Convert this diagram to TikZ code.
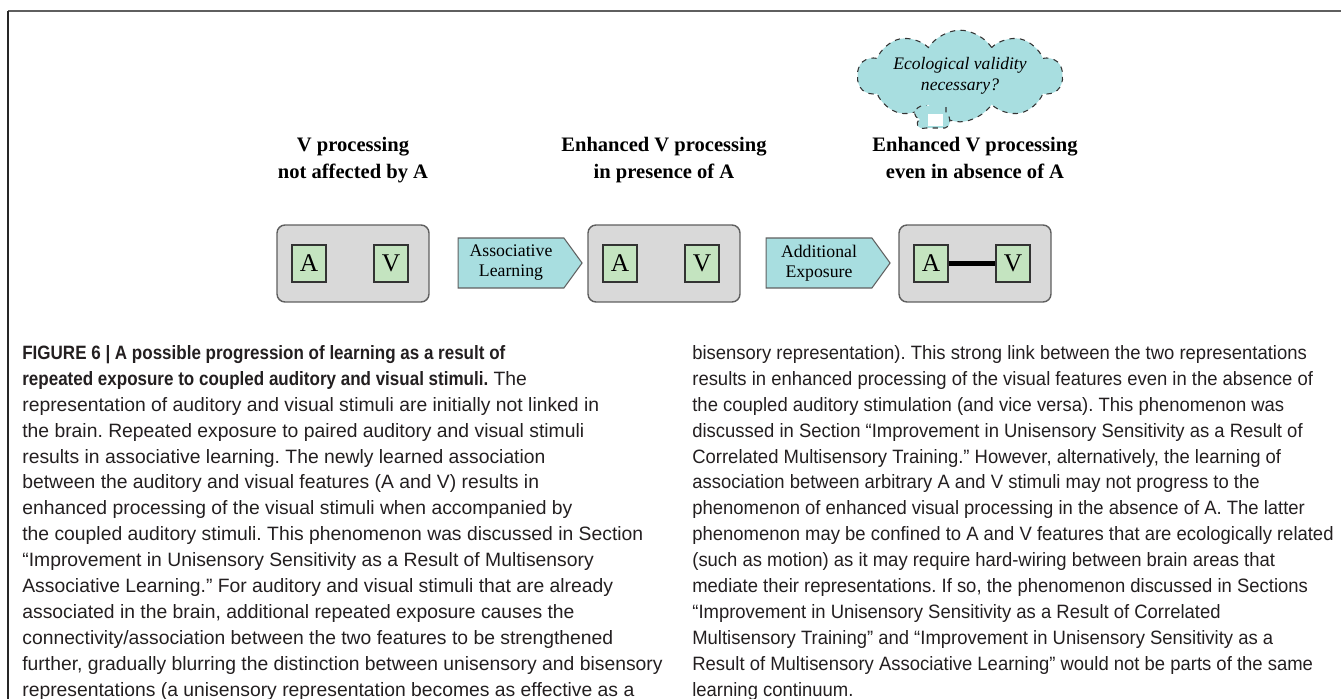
\documentclass[tikz,border=0pt]{standalone}
\usepackage{fontspec}
\setmainfont{Liberation Serif}
\setsansfont[BoldFeatures = {FakeStretch = 0.88}]{Liberation Sans}
\usetikzlibrary{shapes.symbols}
\definecolor{stagegray}{RGB}{217,217,217}
\definecolor{cuegreen}{RGB}{196,228,192}
\definecolor{flowcyan}{RGB}{168,222,224}
\definecolor{edgegray}{RGB}{95,95,95}
\definecolor{captext}{RGB}{35,31,32}
\frenchspacing

\begin{document}
\begin{tikzpicture}[x = 0.02cm, y = -0.02cm]
\tikzstyle{StageStyle}=[shape = rectangle, rounded corners = 0.16cm, draw = edgegray,
line width = 0.8pt, fill = stagegray, minimum width = 3.04cm, minimum height = 1.54cm]
\tikzstyle{CueStyle}=[shape = rectangle, draw = black!80, line width = 0.6pt,
fill = cuegreen, minimum width = 0.68cm, minimum height = 0.74cm, inner sep = 0pt,
font = \fontsize{14.5}{16}\selectfont]
\tikzstyle{ArrowStyle}=[shape = signal, signal to = east, signal pointer angle = 108,
draw = edgegray, line width = 0.6pt, fill = flowcyan, minimum width = 2.48cm,
minimum height = 1cm, inner sep = 0pt, align = center,
font = \fontsize{10.1}{11.4}\selectfont]
\tikzstyle{HeadStyle}=[anchor = north, inner sep = 0pt, align = center,
font = \fontsize{11.7}{15.3}\selectfont\bfseries]
\tikzstyle{CaptionStyle}=[anchor = north west, inner sep = 0pt, align = left,
text = captext, font = \sffamily\fontsize{11}{14.75}\selectfont]
\useasboundingbox (0,0) rectangle (1341,699);
\draw[edgegray, line width = 1.1pt] (8,11) -- (1341,11);
\draw[black!85, line width = 0.6pt] (8,11) -- (8,699);
\node[shape = cloud, cloud puffs = 10, cloud puff arc = 115, aspect = 3,
draw = black!80, dashed, line width = 0.6pt, fill = flowcyan, minimum width = 4.1cm,
minimum height = 1cm, inner sep = 0pt, align = center,
font = \fontsize{10}{12}\selectfont\itshape] (cloud) at (960,76) {Ecological validity\\necessary?};
\draw[black!80, dashed, line width = 0.6pt, fill = flowcyan] (921,106) .. controls (912,110) and (913,117) .. (920,119)
.. controls (914,124) and (918,130) .. (926,128) -- (945,128) .. controls (951,127) and (952,118) .. (946,113) -- (946,106);
\fill[white] (928,114) rectangle (943,126);
\node[HeadStyle] (head1) at (353,137) {V processing\\not affected by A};
\node[HeadStyle] (head2) at (664,137) {Enhanced V processing\\in presence of A};
\node[HeadStyle] (head3) at (975,137) {Enhanced V processing\\even in absence of A};
\node[StageStyle] (stage1) at (353,263.5) {};
\node[StageStyle] (stage2) at (664,263.5) {};
\node[StageStyle] (stage3) at (975,263.5) {};
\node[CueStyle] (a1) at (309,263.5) {A};
\node[CueStyle] (v1) at (391,263.5) {V};
\node[CueStyle] (a2) at (620,263.5) {A};
\node[CueStyle] (v2) at (702,263.5) {V};
\node[CueStyle] (a3) at (931,263.5) {A};
\node[CueStyle] (v3) at (1013,263.5) {V};
\node[ArrowStyle] (learn) at (511,263) {Associative\\Learning};
\node[ArrowStyle] (expose) at (819,263) {Additional\\Exposure};
\draw[line width = 2.8pt] (a3) -- (v3);
\node[CaptionStyle] (capleft) at (22,345) {\textbf{FIGURE 6 | A possible progression of learning as a result of}\\
\textbf{repeated exposure to coupled auditory and visual stimuli.} The\\
representation of auditory and visual stimuli are initially not linked in\\
the brain. Repeated exposure to paired auditory and visual stimuli\\
results in associative learning. The newly learned association\\
between the auditory and visual features (A and V) results in\\
enhanced processing of the visual stimuli when accompanied by\\
the coupled auditory stimuli. This phenomenon was discussed in Section\\
“Improvement in Unisensory Sensitivity as a Result of Multisensory\\
Associative Learning.” For auditory and visual stimuli that are already\\
associated in the brain, additional repeated exposure causes the\\
connectivity/association between the two features to be strengthened\\
further, gradually blurring the distinction between unisensory and bisensory\\
representations (a unisensory representation becomes as effective as a};
\node[CaptionStyle, font = \sffamily\fontsize{11}{14.75}\selectfont\addfontfeature{FakeStretch = 0.955}] (capright) at (692,345) {bisensory representation). This strong link between the two representations\\
results in enhanced processing of the visual features even in the absence of\\
the coupled auditory stimulation (and vice versa). This phenomenon was\\
discussed in Section “Improvement in Unisensory Sensitivity as a Result of\\
Correlated Multisensory Training.” However, alternatively, the learning of\\
association between arbitrary A and V stimuli may not progress to the\\
phenomenon of enhanced visual processing in the absence of A. The latter\\
phenomenon may be confined to A and V features that are ecologically related\\
(such as motion) as it may require hard-wiring between brain areas that\\
mediate their representations. If so, the phenomenon discussed in Sections\\
“Improvement in Unisensory Sensitivity as a Result of Correlated\\
Multisensory Training” and “Improvement in Unisensory Sensitivity as a\\
Result of Multisensory Associative Learning” would not be parts of the same\\
learning continuum.};
\end{tikzpicture}
\end{document}
